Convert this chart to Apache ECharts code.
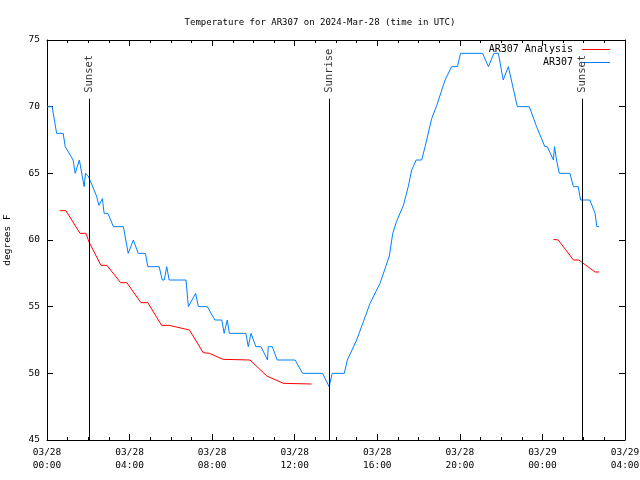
<!DOCTYPE html>
<html>
<head>
<meta charset="utf-8">
<script src="https://cdn.jsdelivr.net/npm/echarts@6/dist/echarts.min.js"></script>
<style>html,body{margin:0;padding:0;background:#fff}#c{width:640px;height:480px}</style>
</head>
<body>
<div id="c"></div>
<script>
// ---- data ----
const titleText = 'Temperature for AR307 on 2024-Mar-28 (time in UTC)';
const xTickLabels = ['03/28\n00:00','03/28\n04:00','03/28\n08:00','03/28\n12:00','03/28\n16:00','03/28\n20:00','03/29\n00:00','03/29\n04:00'];
const yTicks = [45,50,55,60,65,70,75];

const obsTimes = ['03/28 00:00','03/28 00:15','03/28 00:28','03/28 00:47','03/28 00:53','03/28 01:16','03/28 01:22','03/28 01:34','03/28 01:48','03/28 01:52',
  '03/28 02:00','03/28 02:24','03/28 02:31','03/28 02:41','03/28 02:46','03/28 02:57','03/28 03:13','03/28 03:42','03/28 03:56','03/28 04:11',
  '03/28 04:25','03/28 04:46','03/28 04:53','03/28 05:26','03/28 05:35','03/28 05:41','03/28 05:48','03/28 05:53','03/28 05:55','03/28 06:44',
  '03/28 06:51','03/28 07:12','03/28 07:20','03/28 07:46','03/28 08:08','03/28 08:28','03/28 08:35','03/28 08:44','03/28 08:50','03/28 09:38',
  '03/28 09:45','03/28 09:53','03/28 10:07','03/28 10:22','03/28 10:41','03/28 10:43','03/28 10:55','03/28 11:09','03/28 12:01','03/28 12:23',
  '03/28 13:21','03/28 13:40','03/28 13:49','03/28 14:24','03/28 14:33','03/28 15:00','03/28 15:39','03/28 16:08','03/28 16:35','03/28 16:45',
  '03/28 16:56','03/28 17:16','03/28 17:30','03/28 17:40','03/28 17:53','03/28 18:09','03/28 18:19','03/28 18:38','03/28 18:53','03/28 19:17',
  '03/28 19:36','03/28 19:53','03/28 20:02','03/28 21:06','03/28 21:23','03/28 21:39','03/28 21:52','03/28 22:06','03/28 22:21','03/28 22:47',
  '03/28 23:22','03/28 23:43','03/29 00:07','03/29 00:14','03/29 00:32','03/29 00:35','03/29 00:41','03/29 00:46','03/29 00:49','03/29 01:20',
  '03/29 01:30','03/29 01:44','03/29 01:51','03/29 02:18','03/29 02:33','03/29 02:38','03/29 02:45'];
const obsTemps = [70,70,68,68,67,66,65,66,64,65,
  64.8,63.3,62.6,63.1,62,62,61,61,59,60,
  59,59,58,58,57,57,58,58,57,57,
  55,56,55,55,54,54,53,54,53,53,
  52,53,52,52,51,52,52,51,51,50,
  50,49,50,50,51,52.5,55.25,56.75,58.8,60.5,
  61.4,62.6,64,65.25,66,66,67,69.1,70.1,72,
  73,73,74,74,73,74,74,72,73,70,
  70,68.5,67,67,66,67,66,66,65,65,
  64,64,63,63,62,61,61];

const anaTimes = ['03/28 00:38','03/28 00:55','03/28 01:36','03/28 01:53','03/28 02:03','03/28 02:37','03/28 02:54','03/28 03:34','03/28 03:52','03/28 04:33',
  '03/28 04:53','03/28 05:33','03/28 05:55','03/28 06:54','03/28 07:34','03/28 07:52','03/28 08:32','03/28 09:50','03/28 10:39','03/28 11:27',
  '03/28 12:49','03/28 18:00',
  '03/29 00:32','03/29 00:46','03/29 01:30','03/29 01:46','03/29 02:33','03/29 02:45'];
const anaTemps = [62.2,62.2,60.5,60.5,59.8,58.1,58.1,56.8,56.8,55.3,
  55.3,53.6,53.6,53.25,51.55,51.5,51.05,51,49.8,49.25,
  49.2,null,
  60.05,60,58.5,58.5,57.6,57.6];

const sunNames = ['Sunset','Sunrise','Sunset'];
const sunTimes = ['03/28 02:03','03/28 13:41','03/29 01:56'];

// ---- helpers ----
function toHours(s){
  const [d, t] = s.split(' ');
  const day = parseInt(d.split('/')[1], 10);
  const [hh, mm] = t.split(':').map(Number);
  return (day - 28) * 24 + hh + mm / 60;
}
const obsData = obsTimes.map((t,i)=>[toHours(t), obsTemps[i]]);
const anaData = anaTimes.map((t,i)=>[toHours(t), anaTemps[i] === null ? '-' : anaTemps[i]]);
const sunLabelData = sunTimes.map((t,i)=>({name: sunNames[i], value:[toHours(t), 71.0]}));
const sunLines = sunTimes.map(t=>[{coord:[toHours(t), 70.6]},{coord:[toHours(t), 45]}]);

const FONT = 'DejaVu Sans Mono';
const axisBase = {
  axisLine:{show:true, onZero:false, lineStyle:{color:'#000', width:1}},
  splitLine:{show:false}
};

const chart = echarts.init(document.getElementById('c'), null, {renderer:'canvas'});
chart.setOption({
  animation:false,
  backgroundColor:'#fff',
  title:{text:titleText, left:'center', top:13, textStyle:{fontFamily:FONT, fontSize:9, fontWeight:'normal', color:'#000'}},
  legend:{
    orient:'vertical', right:25, top:38, align:'right', itemWidth:28, itemHeight:1, itemGap:0, icon:'rect',
    textStyle:{fontFamily:FONT, fontSize:10, color:'#000', lineHeight:13, padding:[0,4,0,0]},
    data:['AR307 Analysis','AR307']
  },
  grid:{left:47, right:15, top:40, bottom:40, containLabel:false, outerBoundsMode:'none'},
  xAxis:[
    Object.assign({}, axisBase, {
      type:'value', min:0, max:28, interval:4, position:'bottom',
      axisTick:{show:true, inside:true, length:6, lineStyle:{color:'#000'}},
      minorTick:{show:true, splitNumber:4, length:3, lineStyle:{color:'#000'}},
      axisLabel:{fontFamily:FONT, fontSize:9.5, color:'#000', lineHeight:13, margin:6, hideOverlap:false,
        showMinLabel:true, showMaxLabel:true,
        formatter:v=>xTickLabels[Math.round(v/4)]}
    }),
    Object.assign({}, axisBase, {
      type:'value', min:0, max:28, interval:4, position:'top',
      axisTick:{show:true, inside:true, length:6, lineStyle:{color:'#000'}},
      minorTick:{show:true, splitNumber:4, length:3, lineStyle:{color:'#000'}},
      axisLabel:{show:false}
    })
  ],
  yAxis:[
    Object.assign({}, axisBase, {
      type:'value', min:45, max:75, interval:5, position:'left',
      name:'degrees F', nameLocation:'middle', nameRotate:90, nameGap:34,
      nameTextStyle:{fontFamily:FONT, fontSize:9.5, color:'#000'},
      axisTick:{show:true, inside:true, length:6, lineStyle:{color:'#000'}},
      axisLabel:{fontFamily:FONT, fontSize:9.5, color:'#000', margin:7,
        formatter:v=>yTicks.includes(v)?String(v):''}
    }),
    Object.assign({}, axisBase, {
      type:'value', min:45, max:75, interval:5, position:'right',
      axisTick:{show:true, inside:true, length:6, lineStyle:{color:'#000'}},
      axisLabel:{show:false}
    })
  ],
  series:[
    {
      name:'AR307 Analysis', type:'line', data:anaData, symbol:'none', connectNulls:false,
      lineStyle:{color:'#ff0000', width:1}, itemStyle:{color:'#ff0000'}, z:3
    },
    {
      name:'AR307', type:'line', data:obsData, symbol:'none',
      lineStyle:{color:'#0080ff', width:1}, itemStyle:{color:'#0080ff'}, z:3
    },
    {
      name:'sun', type:'scatter', data:sunLabelData, symbolSize:1,
      itemStyle:{color:'rgba(0,0,0,0)'}, silent:true, z:4,
      label:{show:true, formatter:p=>p.name, rotate:90, position:[0,0], align:'left', verticalAlign:'middle',
        fontFamily:FONT, fontSize:10.5, color:'#000'},
      markLine:{silent:true, symbol:['none','none'], label:{show:false},
        lineStyle:{color:'#000', width:1, type:'solid'}, data:sunLines}
    }
  ]
});
</script>
</body>
</html>
